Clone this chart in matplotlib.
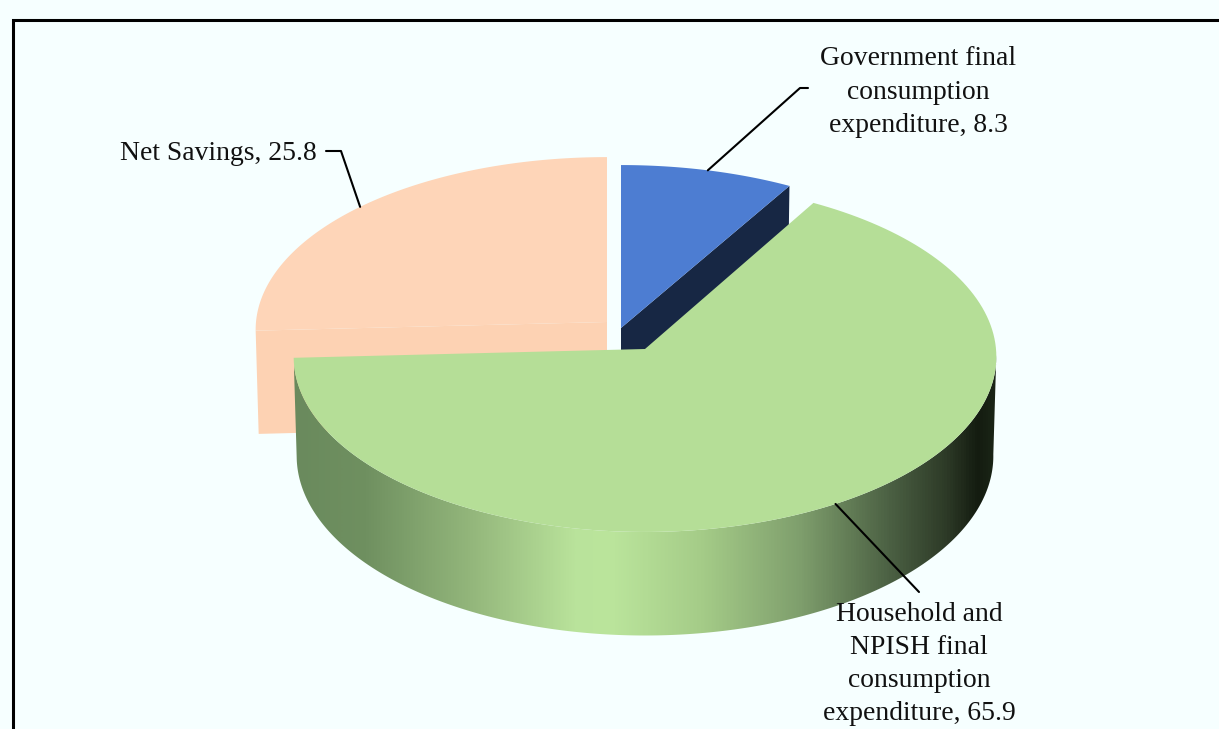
import numpy as np
import matplotlib
matplotlib.use("Agg")
import matplotlib.pyplot as plt
from matplotlib.colors import LinearSegmentedColormap
from matplotlib.patches import Polygon

categories = ["Government final\nconsumption\nexpenditure", "Household and\nNPISH final\nconsumption\nexpenditure", "Net Savings"]
values = [8.3, 65.9, 25.8]
top_colors = ["#4d7dd2", "#b5de97", "#fed5b8"]
side_colors = ["#172744", None, "#fdd2b3"]

BG = "#f6ffff"
RX, RX_LOW = 351, 348
PERSP = 0.0439
DEPTH_SHIFT = {"gov": 103, "green": 99, "sav": 103}

fig = plt.figure(figsize=(12.19, 7.29), dpi=100, facecolor=BG)
ax = fig.add_axes([0, 0, 1, 1])
ax.set_xlim(0, 1219)
ax.set_ylim(729, 0)
ax.axis("off")


def project(theta_deg, apex, a, rx=RX):
    """Perspective projection of a rim point; theta is clockwise from 12 o'clock."""
    t = np.radians(np.asarray(theta_deg, dtype=float))
    u, v = np.sin(t), np.cos(t)
    w = 1 + PERSP * v
    return np.column_stack([apex[0] + rx * u / w, (apex[1] + a * v) / w])


edges = np.concatenate([[0], np.cumsum(values)]) * 360 / sum(values)
gov_span, green_span, sav_span = [(edges[i], edges[i + 1]) for i in range(3)]

GOV = ((621, 328), -155.7)
GREEN = ((645, 349), -159.6)
SAV = ((607, 322), -158.0)


def arc(span, n=160):
    return np.linspace(span[0], span[1], n)


def wedge(span, spec, **kw):
    apex, a = spec
    pts = np.vstack([[apex], project(arc(span), apex, a)])
    ax.add_patch(Polygon(pts, closed=True, lw=0, **kw))


def cut_face(theta, spec, depth, color, z):
    apex, a = spec
    rim = project([theta], apex, a)[0]
    low = project([theta], (apex[0], apex[1] + depth), a, RX_LOW)[0]
    ax.add_patch(Polygon([apex, rim, low, (apex[0], apex[1] + depth)], closed=True,
                         lw=0, fc=color, zorder=z))


# Net savings slice
cut_face(sav_span[0], SAV, DEPTH_SHIFT["sav"], side_colors[2], 2)
wedge(sav_span, SAV, fc=top_colors[2], zorder=3)

# Government slice
cut_face(gov_span[1], GOV, DEPTH_SHIFT["gov"], side_colors[0], 2)
wedge(gov_span, GOV, fc=top_colors[0], zorder=3)

# Household wall: a horizontal gradient clipped to the wall outline
wall = LinearSegmentedColormap.from_list("wall", [
    (0.00, "#6a8a5d"), (0.10, "#6f9060"), (0.25, "#93b67b"), (0.40, "#b9e39b"),
    (0.45, "#bbe59c"), (0.58, "#a5cc88"), (0.72, "#7f9f6d"), (0.85, "#4b6043"),
    (0.93, "#2d3a27"), (0.975, "#141c10"), (1.00, "#1b2516"),
])
apex, a = GREEN
th = np.linspace(92, green_span[1], 300)
upper = project(th, apex, a)
lower = project(th, (apex[0], apex[1] + DEPTH_SHIFT["green"]), a, RX_LOW)
outline = Polygon(np.vstack([upper, lower[::-1]]), closed=True, lw=0, fc="none",
                  transform=ax.transData)
ax.add_patch(outline)
img = ax.imshow(np.linspace(0, 1, 704)[None, :], cmap=wall, vmin=0, vmax=1,
                extent=(294, 997, 700, 300), aspect="auto", zorder=4,
                interpolation="bilinear")
img.set_clip_path(outline)
ax.set_xlim(0, 1219)
ax.set_ylim(729, 0)
wedge(green_span, GREEN, fc=top_colors[1], zorder=5)

# Frame, open at the right and bottom
ax.plot([13, 13, 1219], [729, 20, 20], color="black", lw=2.2, zorder=1,
        solid_joinstyle="miter")

# Leader lines start on the rim at each slice's mid angle
mids = 0.5 * (edges[:-1] + edges[1:])
LINE = dict(color="black", lw=1.5, zorder=6, solid_capstyle="round")
p = project([mids[0]], *GOV)[0]
ax.plot([p[0], 800, 808], [p[1], 88, 88], **LINE)
p = project([mids[1]], *GREEN)[0]
ax.plot([p[0], 919], [p[1], 592], **LINE)
p = project([mids[2]], *SAV)[0]
ax.plot([p[0], 341, 326], [p[1], 151, 151], **LINE)

TXT = dict(family="Liberation Serif", fontsize=19.9, color="#111111", zorder=7,
           ha="center", va="center", linespacing=1.43)
ax.text(918, 92, f"{categories[0]}, {values[0]}", **TXT)
ax.text(919, 664, f"{categories[1]}, {values[1]}", **TXT)
ax.text(218, 153, f"{categories[2]}, {values[2]}", **TXT)

fig.savefig("out.png", dpi=100, facecolor=BG)
